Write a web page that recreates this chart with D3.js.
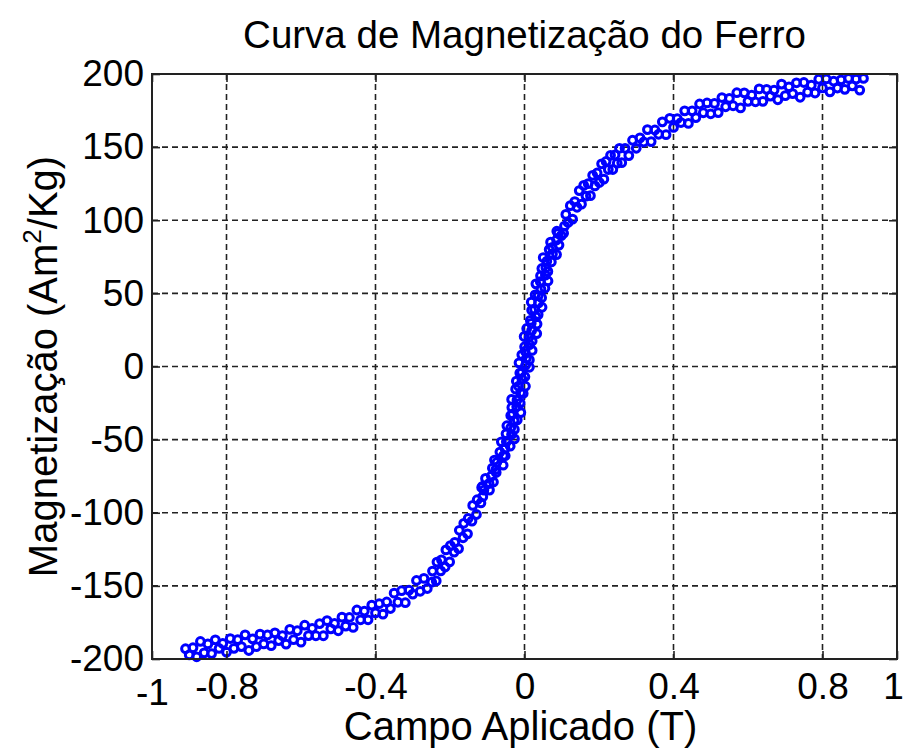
<!DOCTYPE html>
<html>
<head>
<meta charset="utf-8">
<script src="https://cdn.jsdelivr.net/npm/d3@7"></script>
<style>
  body { margin: 0; background: #fff; }
  text { font-family: "Liberation Sans", Arial, Helvetica, sans-serif; fill: #000; }
</style>
</head>
<body>
<div id="chart"></div>
<script>
// Descending sweep (field from +0.91 T down to -0.91 T)
const fieldDown = [
  0.91, 0.89, 0.87, 0.85, 0.83, 0.81, 0.79, 0.77, 0.75, 0.73, 0.71, 0.69, 0.67, 0.65, 0.63, 0.61,
  0.59, 0.57, 0.55, 0.53, 0.51, 0.49, 0.47, 0.45, 0.43, 0.41, 0.39, 0.37, 0.35, 0.33, 0.31, 0.29, 0.27,
  0.255, 0.243, 0.231, 0.219, 0.207, 0.195, 0.183, 0.171, 0.159, 0.147, 0.135, 0.123, 0.111,
  0.0867, 0.070, 0.0663, 0.0503, 0.0466, 0.043, 0.0306, 0.0285, 0.0182, 0.0192, 0.0156, 0.0059,
  -0.001, 0.0003, -0.0072, -0.0147, -0.0126, -0.0219, -0.0238, -0.0345, -0.034, -0.0369, -0.0473,
  -0.0496, -0.0621, -0.066, -0.0806, -0.0862, -0.1047, -0.1127,
  -0.115, -0.127, -0.139, -0.151, -0.163, -0.175, -0.187, -0.199, -0.211, -0.223, -0.235, -0.247,
  -0.27, -0.29, -0.31, -0.33, -0.35, -0.37, -0.39, -0.41, -0.43, -0.45, -0.47, -0.49, -0.51, -0.53,
  -0.55, -0.57, -0.59, -0.61, -0.63, -0.65, -0.67, -0.69, -0.71, -0.73, -0.75, -0.77, -0.79, -0.81,
  -0.83, -0.85, -0.87, -0.89, -0.91
];
const magDown = [
  197, 196.5, 197, 196, 195.1, 196.6, 196.4, 192.3, 194.2, 194, 191.2, 193.1, 189, 189.5, 189.8, 185.5,
  187.1, 187.2, 183.3, 183.9, 179.9, 180.2, 179.5, 174.8, 174.8, 169.5, 169.7, 167.3, 161.7, 162, 156.3, 154.7, 149.2,
  149.2, 144.6, 144.4, 140.2, 138.6, 132.3, 130.7, 125, 123.8, 120.3, 112.8, 110, 104,
  92.5, 85, 80, 74.5, 67, 62, 56.5, 49, 44, 38.5, 31.5, 26,
  20.5, 13.5, 8, 2.5, -4.5, -10, -15.5, -22.5, -28, -33.5, -40.5,
  -46, -51.5, -58.5, -64, -69.5, -76.5, -82,
  -82.7, -91.1, -95, -103.8, -107.2, -112, -120.3, -122.5, -125.4, -132.2, -133.7, -139.9,
  -144.9, -146.3, -152.9, -153.3, -155, -161, -162.2, -163.2, -167.2, -166.5, -171.6, -171.4, -175.7, -173.8,
  -175.8, -179, -176.9, -180.7, -179.7, -184, -182.1, -183.6, -183, -186.2, -183.5, -186.8, -186, -189.4,
  -186.9, -189.7, -188, -192.3, -193
];

// Ascending sweep (field from -0.90 T up to +0.90 T)
const fieldUp = [
  -0.90, -0.88, -0.86, -0.84, -0.82, -0.80, -0.78, -0.76, -0.74, -0.72, -0.70, -0.68, -0.66, -0.64,
  -0.62, -0.60, -0.58, -0.56, -0.54, -0.52, -0.50, -0.48, -0.46, -0.44, -0.42, -0.40, -0.38, -0.36,
  -0.34, -0.32, -0.30, -0.28,
  -0.261, -0.249, -0.237, -0.225, -0.213, -0.201, -0.189, -0.177, -0.165, -0.153, -0.141, -0.129, -0.117,
  -0.094, -0.0833, -0.076, -0.0573, -0.0518, -0.0384, -0.027, -0.0272, -0.0195, -0.0098, -0.0115,
  -0.0035, 0.0025, 0.0011, 0.0131, 0.0131, 0.0205, 0.0206, 0.0328, 0.0337, 0.0367, 0.0471, 0.046,
  0.0548, 0.0631, 0.0627, 0.0721, 0.086, 0.0926, 0.0986,
  0.105, 0.117, 0.129, 0.141, 0.153, 0.165, 0.177, 0.189, 0.201, 0.213, 0.225, 0.237, 0.249, 0.261,
  0.28, 0.30, 0.32, 0.34, 0.36, 0.38, 0.40, 0.42, 0.44, 0.46, 0.48, 0.50, 0.52, 0.54, 0.56, 0.58,
  0.60, 0.62, 0.64, 0.66, 0.68, 0.70, 0.72, 0.74, 0.76, 0.78, 0.80, 0.82, 0.84, 0.86, 0.88, 0.90
];
const magUp = [
  -197.2, -198.5, -195.8, -196.3, -192.8, -195.3, -192.7, -191.5, -194.2, -191.6, -189.7, -190.9, -187.4, -189.8,
  -186.8, -188.5, -184, -184.1, -184.1, -179.4, -180.7, -177.5, -178.4, -173.2, -173.2, -168.5, -169.3, -165.5,
  -161.2, -161.5, -155.6, -153.7,
  -151.8, -147.5, -146.6, -139.7, -137.1, -133.6, -126.9, -124.5, -117.1, -114.4, -105.7, -101.2, -93.3,
  -84.5, -79, -72.5, -67.5, -61, -54.5, -49.5, -43, -36.5, -31.5, -25,
  -18.5, -13.5, -7, -0.5, 4.5, 11, 17.5, 22.5, 29, 35.5, 40.5, 47,
  53.5, 58.5, 65, 71.5, 76.5, 83, 89.5,
  91.1, 98.5, 100.8, 108.9, 111, 116.5, 116.8, 123.5, 125.8, 128.1, 134.7, 134.7, 139, 139.4,
  144.2, 149.2, 153.5, 153.8, 158.8, 158.5, 163.5, 166.8, 166.2, 170.2, 173.5, 172.8, 173.6, 177.6, 178.3, 176.8,
  181.3, 181, 181.3, 184.9, 182.4, 185.2, 186.6, 184.1, 187.6, 187, 190.5, 187.8, 190.4, 189.5, 191.9, 189
];

// Extra readings taken through the steep part near zero field
const fieldRepeat = [
  0.1074, 0.090, 0.086, 0.0744, 0.075, 0.0599, 0.0574, 0.0561, 0.0424, 0.0441, 0.0369, 0.0378,
  0.027, 0.0308, 0.0181, 0.019, 0.0124, 0.0134, 0.0018, 0.0048, 0.0032, -0.0076, -0.0071, -0.016,
  -0.0104, -0.0202, -0.0209, -0.0321, -0.0278, -0.037, -0.0348, -0.0488, -0.0523, -0.0568, -0.074,
  -0.0771, -0.089, -0.095, -0.109, -0.112
];
const magRepeat = [
  96, 91, 86.5, 81.5, 77, 72, 67.5, 62.5, 58, 53, 48.5, 43.5,
  39, 34, 29.5, 24.5, 20, 15, 10.5, 5.5, 1, -4, -8.5, -13.5,
  -18, -23, -27.5, -32.5, -37, -42, -46.5, -51.5, -56, -61, -65.5,
  -70.5, -75, -80, -84.5, -89
];

const xTicks = [-1, -0.8, -0.4, 0, 0.4, 0.8, 1];
const xGrid = [-0.8, -0.4, 0, 0.4, 0.8];
const yTicks = [-200, -150, -100, -50, 0, 50, 100, 150, 200];
const yGrid = [-150, -100, -50, 0, 50, 100, 150];

const W = 903, H = 749;
const margin = {top: 74, right: 6, bottom: 90, left: 152};
const iw = W - margin.left - margin.right;
const ih = H - margin.top - margin.bottom;

const svg = d3.select("#chart").append("svg")
  .attr("width", W)
  .attr("height", H);

const g = svg.append("g")
  .attr("transform", `translate(${margin.left},${margin.top})`);

const x = d3.scaleLinear().domain([-1, 1]).range([0, iw]);
const y = d3.scaleLinear().domain([-200, 200]).range([ih, 0]);

// dashed grid
g.append("g").selectAll("line").data(xGrid).join("line")
  .attr("x1", d => x(d)).attr("x2", d => x(d))
  .attr("y1", 0).attr("y2", ih)
  .attr("stroke", "#222").attr("stroke-width", 1.6)
  .attr("stroke-dasharray", "6,4");
g.append("g").selectAll("line").data(yGrid).join("line")
  .attr("x1", 0).attr("x2", iw)
  .attr("y1", d => y(d)).attr("y2", d => y(d))
  .attr("stroke", "#222").attr("stroke-width", 1.6)
  .attr("stroke-dasharray", "6,4");

// measured points, all sweeps
const toPts = (hs, ms) => hs.map((h, i) => [h, ms[i]]);
const pts = toPts(fieldDown, magDown)
  .concat(toPts(fieldUp, magUp))
  .concat(toPts(fieldRepeat, magRepeat));

g.append("g").selectAll("circle").data(pts).join("circle")
  .attr("cx", d => x(d[0]))
  .attr("cy", d => y(d[1]))
  .attr("r", 3.9)
  .attr("fill", "none")
  .attr("stroke", "#0000ff")
  .attr("stroke-width", 3);

// axes, ticks pointing inward like matlab
const fmt = d => String(d);
const xAxis = g.append("g").attr("transform", `translate(0,${ih})`)
  .call(d3.axisBottom(x).tickValues(xTicks).tickFormat(fmt).tickSize(-8).tickPadding(14));
const yAxis = g.append("g")
  .call(d3.axisLeft(y).tickValues(yTicks).tickFormat(fmt).tickSize(-8).tickPadding(8));
const xTop = g.append("g")
  .call(d3.axisTop(x).tickValues(xTicks).tickFormat("").tickSize(-8));
const yRight = g.append("g").attr("transform", `translate(${iw},0)`)
  .call(d3.axisRight(y).tickValues(yTicks).tickFormat("").tickSize(-8));

[xAxis, yAxis, xTop, yRight].forEach(a => {
  a.select(".domain").remove();
  a.selectAll(".tick line").attr("stroke", "#222").attr("stroke-width", 1.6);
  a.selectAll("text").style("font-size", "37px").attr("fill", "#000");
});

// -1 sits a bit lower, 1 pulled in from the edge
xAxis.selectAll(".tick text")
  .filter(d => d === -1).attr("y", 20);
xAxis.selectAll(".tick text")
  .filter(d => d === 1).attr("dx", -4);

// box
g.append("rect")
  .attr("width", iw).attr("height", ih)
  .attr("fill", "none")
  .attr("stroke", "#222")
  .attr("stroke-width", 2);

// title and labels
svg.append("text")
  .attr("x", margin.left + iw / 2)
  .attr("y", 48)
  .attr("text-anchor", "middle")
  .style("font-size", "38.5px")
  .text("Curva de Magnetização do Ferro");

svg.append("text")
  .attr("x", margin.left + iw / 2 - 4)
  .attr("y", 740)
  .attr("text-anchor", "middle")
  .style("font-size", "40px")
  .text("Campo Aplicado (T)");

const yl = svg.append("text")
  .attr("transform", `translate(57,${margin.top + ih / 2}) rotate(-90)`)
  .attr("text-anchor", "middle")
  .style("font-size", "40px");
yl.append("tspan").text("Magnetização (Am");
yl.append("tspan").attr("dy", -16).style("font-size", "26px").text("2");
yl.append("tspan").attr("dy", 16).text("/Kg)");
</script>
</body>
</html>
